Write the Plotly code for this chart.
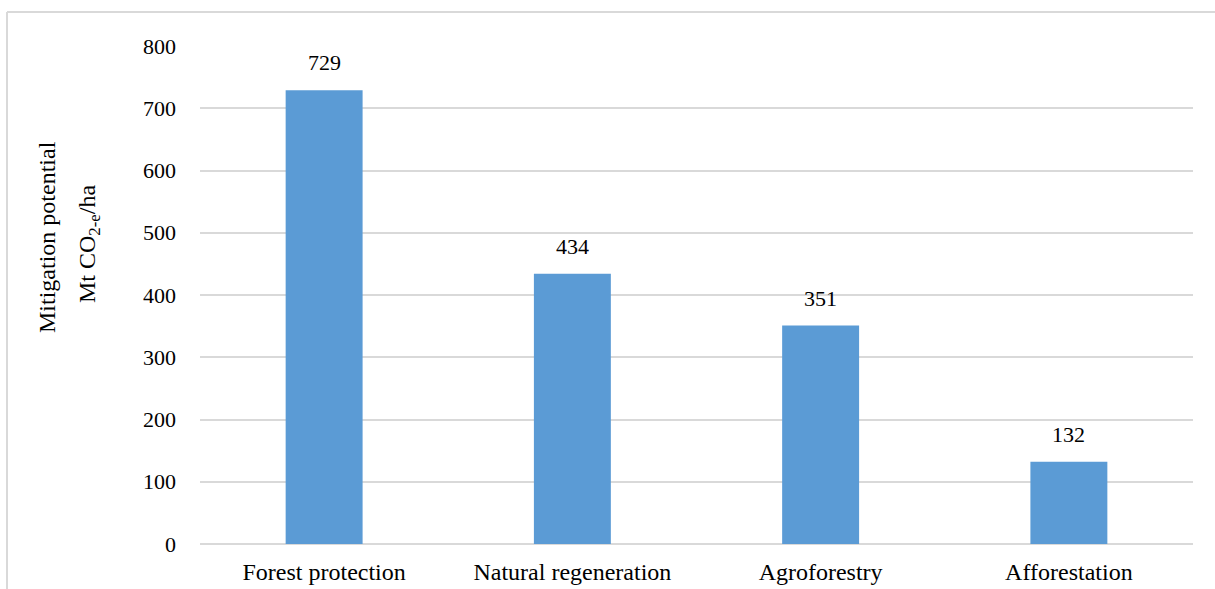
import plotly.graph_objects as go

categories = ["Forest protection", "Natural regeneration", "Agroforestry", "Afforestation"]
values = [729, 434, 351, 132]
y_ticks = [0, 100, 200, 300, 400, 500, 600, 700, 800]

W, H = 1215, 589
L, R, T, B = 200, 22, 46, 45
pw, ph = W - L - R, H - T - B

def px_x(px):
    return (px - L) / pw

def px_y(py):
    return (H - B - py) / ph

font_family = "Liberation Serif, Times New Roman, serif"
grid = "#D9D9D9"
FS = 22

fig = go.Figure(
    go.Bar(
        x=categories,
        y=values,
        marker=dict(color="#5B9BD5", line=dict(width=0)),
        width=0.31,
        hoverinfo="skip",
    )
)

# value labels above each bar
for c, v in zip(categories, values):
    fig.add_annotation(
        x=c, y=v, text=str(v), showarrow=False,
        yanchor="bottom", yshift=13,
        font=dict(family=font_family, size=FS, color="#000000"),
    )

# two-line vertical axis title
fig.add_annotation(
    xref="paper", yref="paper", x=px_x(47), y=px_y(237),
    xanchor="center", yanchor="middle",
    text="Mitigation potential", showarrow=False, textangle=-90,
    font=dict(family=font_family, size=24, color="#000000"),
)
fig.add_annotation(
    xref="paper", yref="paper", x=px_x(89), y=px_y(244),
    xanchor="center", yanchor="middle",
    text="Mt CO<sub>2-e</sub>/ha", showarrow=False, textangle=-90,
    font=dict(family=font_family, size=24, color="#000000"),
)

# outer chart frame (top and left edges)
fig.add_shape(type="line", xref="paper", yref="paper",
              x0=px_x(7), x1=px_x(1300), y0=px_y(12), y1=px_y(12),
              line=dict(color=grid, width=2))
fig.add_shape(type="line", xref="paper", yref="paper",
              x0=px_x(7), x1=px_x(7), y0=px_y(12), y1=px_y(700),
              line=dict(color=grid, width=2))

fig.update_layout(
    width=W, height=H,
    margin=dict(l=L, r=R, t=T, b=B, pad=0, autoexpand=False),
    paper_bgcolor="white", plot_bgcolor="white",
    showlegend=False,
    font=dict(family=font_family, size=FS, color="#000000"),
    xaxis=dict(
        showgrid=False, zeroline=False, showline=False, ticks="",
        tickfont=dict(family=font_family, size=24, color="#000000"),
        ticklabelstandoff=11, automargin=False,
    ),
    yaxis=dict(
        range=[0, 800], tickvals=y_ticks,
        showgrid=True, gridcolor=grid, gridwidth=2,
        zeroline=True, zerolinecolor=grid, zerolinewidth=2,
        showline=False, ticks="",
        tickfont=dict(family=font_family, size=FS, color="#000000"),
        ticklabelstandoff=23, automargin=False,
    ),
)

fig.write_html("out.html")
